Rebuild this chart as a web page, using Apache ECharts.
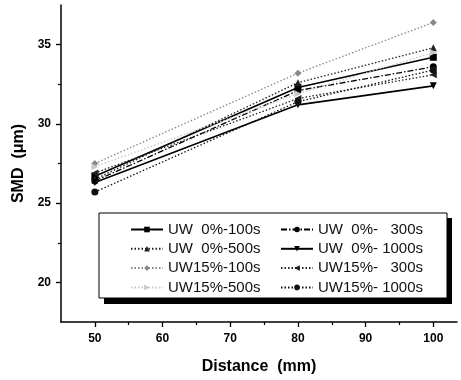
<!DOCTYPE html>
<html>
<head>
<meta charset="utf-8">
<script src="https://cdn.jsdelivr.net/npm/echarts@6/dist/echarts.min.js"></script>
<style>
  html, body { margin: 0; padding: 0; background: #fff; }
  #chart { width: 461px; height: 380px; }
</style>
</head>
<body>
<div id="chart"></div>
<script>
// distances (mm)
const distances = [50, 80, 100];

// SMD values (um) per run
const uw0_100 = [26.7, 32.3, 34.2];
const uw0_300 = [26.4, 32.1, 33.6];
const uw0_500 = [26.5, 32.6, 34.8];
const uw0_1000 = [26.3, 31.2, 32.4];
const uw15_100 = [27.5, 33.2, 36.4];
const uw15_300 = [26.9, 31.6, 33.1];
const uw15_500 = [27.3, 31.9, 34.5];
const uw15_1000 = [25.7, 31.4, 33.4];

const seriesNames = [
    'UW  0%-100s', 'UW  0%-   300s',
    'UW  0%-500s', 'UW  0%- 1000s',
    'UW15%-100s', 'UW15%-   300s',
    'UW15%-500s', 'UW15%- 1000s'
];

const xMajorTicks = [50, 60, 70, 80, 90, 100];
const xMinorTicks = [55, 65, 75, 85, 95];
const yMajorTicks = [20, 25, 30, 35];
const yMinorTicks = [22.5, 27.5, 32.5];

const chart = echarts.init(document.getElementById('chart'));

const DOT = [1.5, 2];
const DASHDOT = [6, 2, 1.5, 2];

function mk(name, values, symbol, color, lineType, opts) {
    return Object.assign({
        name: name,
        type: 'line',
        xAxisIndex: 0,
        yAxisIndex: 0,
        data: distances.map((d, i) => [d, values[i]]),
        symbol: symbol,
        symbolSize: 7,
        itemStyle: { color: color },
        lineStyle: { color: color, width: 1.3, type: lineType },
        z: 3
    }, opts || {});
}

const series = [
    mk(seriesNames[0], uw0_100, 'rect', '#000', 'solid', { lineStyle: { color: '#000', width: 1.6, type: 'solid' } }),
    mk(seriesNames[1], uw0_300, 'circle', '#000', DASHDOT),
    mk(seriesNames[2], uw0_500, 'triangle', '#222', DOT),
    mk(seriesNames[3], uw0_1000, 'triangle', '#000', 'solid', { symbolRotate: 180, lineStyle: { color: '#000', width: 1.6, type: 'solid' } }),
    mk(seriesNames[4], uw15_100, 'diamond', '#888', DOT),
    mk(seriesNames[5], uw15_300, 'triangle', '#222', DOT, { symbolRotate: 90 }),
    mk(seriesNames[6], uw15_500, 'triangle', '#c8c8c8', DOT, { symbolRotate: -90 }),
    mk(seriesNames[7], uw15_1000, 'circle', '#111', DOT)
];

const legendText = { fontFamily: 'Liberation Sans, Arial', fontSize: 15, color: '#111', lineHeight: 15 };

const baseAxisLine = { show: true, lineStyle: { color: '#000', width: 1.5 } };
const labelFont = { fontFamily: 'Liberation Sans, Arial', fontWeight: 'bold', fontSize: 12, color: '#000' };

const option = {
    backgroundColor: '#fff',
    animation: false,
    grid: { left: 61, top: 5, right: 4, bottom: 55 },
    xAxis: [
        {
            type: 'value',
            min: 45,
            max: 103.5,
            name: 'Distance  (mm)',
            nameLocation: 'middle',
            nameGap: 37,
            nameTextStyle: { fontFamily: 'Liberation Sans, Arial', fontWeight: 'bold', fontSize: 16, color: '#000' },
            axisLine: baseAxisLine,
            axisTick: { show: true, inside: false, length: 5, customValues: xMajorTicks, lineStyle: { color: '#000', width: 1.3 } },
            axisLabel: Object.assign({ customValues: xMajorTicks, margin: 11 }, labelFont),
            splitLine: { show: false }
        },
        {
            type: 'value',
            min: 45,
            max: 103.5,
            position: 'bottom',
            axisLine: { show: false },
            axisTick: { show: true, length: 3, customValues: xMinorTicks, lineStyle: { color: '#000', width: 1.2 } },
            axisLabel: { show: false },
            splitLine: { show: false }
        }
    ],
    yAxis: [
        {
            type: 'value',
            min: 17.5,
            max: 37.5,
            name: 'SMD  (μm)',
            nameLocation: 'middle',
            nameGap: 33,
            nameTextStyle: { fontFamily: 'Liberation Sans, Arial', fontWeight: 'bold', fontSize: 16, color: '#000' },
            axisLine: baseAxisLine,
            axisTick: { show: true, inside: false, length: 5, customValues: yMajorTicks, lineStyle: { color: '#000', width: 1.3 } },
            axisLabel: Object.assign({ customValues: yMajorTicks, margin: 10 }, labelFont),
            splitLine: { show: false }
        },
        {
            type: 'value',
            min: 17.5,
            max: 37.5,
            position: 'left',
            axisLine: { show: false },
            axisTick: { show: true, length: 3, customValues: yMinorTicks, lineStyle: { color: '#000', width: 1.2 } },
            axisLabel: { show: false },
            splitLine: { show: false }
        }
    ],
    graphic: [
        { type: 'rect', z: 1, shape: { x: 104, y: 218, width: 348, height: 86 }, style: { fill: '#000' } },
        { type: 'rect', z: 2, shape: { x: 99, y: 213, width: 348, height: 85 }, style: { fill: '#fff', stroke: '#000', lineWidth: 1 } }
    ],
    legend: [
        {
            z: 10,
            orient: 'vertical',
            left: 125,
            top: 217,
            itemWidth: 32,
            itemHeight: 7,
            itemGap: 4.3,
            textStyle: legendText,
            data: [seriesNames[0], seriesNames[2], seriesNames[4], seriesNames[6]]
        },
        {
            z: 10,
            orient: 'vertical',
            left: 275,
            top: 217,
            itemWidth: 32,
            itemHeight: 7,
            itemGap: 4.3,
            textStyle: legendText,
            data: [seriesNames[1], seriesNames[3], seriesNames[5], seriesNames[7]]
        }
    ],
    series: series
};

chart.setOption(option);
</script>
</body>
</html>
